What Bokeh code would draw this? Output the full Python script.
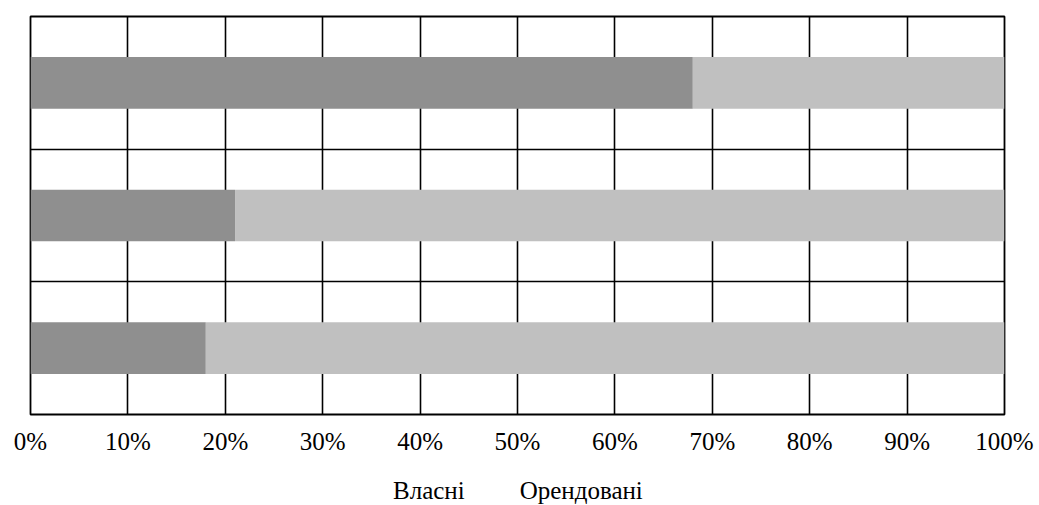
from bokeh.plotting import figure
from bokeh.layouts import column
from bokeh.models import ColumnDataSource, FixedTicker, Legend, LegendItem, Range1d
from bokeh.embed import file_html
from bokeh.resources import INLINE

# data
categories = ["1", "2", "3"]          # top to bottom (no labels shown in the chart)
own = [68, 21, 18]                    # Власні, %
rented = [32, 79, 82]                 # Орендовані, %
series_names = ["Власні", "Орендовані"]
tick_values = [0, 10, 20, 30, 40, 50, 60, 70, 80, 90, 100]
tick_labels = ["0%", "10%", "20%", "30%", "40%", "50%", "60%", "70%", "80%", "90%", "100%"]

n = len(categories)
ypos = [n - 0.5 - i for i in range(n)]
rent_end = [a + b for a, b in zip(own, rented)]

src = ColumnDataSource(dict(y=ypos, own0=[0] * n, own1=own, r0=own, r1=rent_end))

FONT = "Liberation Serif"
C_OWN = "#8f8f8f"
C_RENT = "#c0c0c0"

p = figure(width=1039, height=465,
           x_range=Range1d(0, 100), y_range=Range1d(0, n),
           output_backend="svg", toolbar_location=None,
           min_border_left=30, min_border_right=35, min_border_top=16, min_border_bottom=51)

p.hbar(y="y", left="own0", right="own1", height=0.39, source=src,
       fill_color=C_OWN, line_color=None)
p.hbar(y="y", left="r0", right="r1", height=0.39, source=src,
       fill_color=C_RENT, line_color=None)

p.yaxis.visible = False
p.xaxis.ticker = FixedTicker(ticks=tick_values)
p.xaxis.major_label_overrides = {v: l for v, l in zip(tick_values, tick_labels)}
p.xaxis.major_label_text_font = FONT
p.xaxis.major_label_text_font_size = "25px"
p.xaxis.major_label_text_color = "black"
p.xaxis.major_label_standoff = 7
p.xaxis.axis_line_color = None
p.xaxis.major_tick_line_color = None
p.xaxis.minor_tick_line_color = None

p.xgrid.ticker = FixedTicker(ticks=tick_values)
p.xgrid.grid_line_color = "black"
p.xgrid.grid_line_width = 1.6
p.ygrid.ticker = FixedTicker(ticks=list(range(n + 1)))
p.ygrid.grid_line_color = "black"
p.ygrid.grid_line_width = 1.6

p.outline_line_color = "black"
p.outline_line_width = 1.8
p.background_fill_color = "white"
p.border_fill_color = "white"

# legend strip below the chart
p2 = figure(width=1039, height=40, x_range=Range1d(0, 1), y_range=Range1d(0, 1),
            output_backend="svg", toolbar_location=None, min_border=0)
p2.axis.visible = False
p2.grid.visible = False
p2.outline_line_color = None
p2.background_fill_color = "white"
p2.border_fill_color = "white"
empty = ColumnDataSource(dict(y=[], l=[], r=[]))
lr1 = p2.hbar(y="y", left="l", right="r", height=0.5, source=empty, fill_color=C_OWN, line_color=None)
lr2 = p2.hbar(y="y", left="l", right="r", height=0.5, source=empty, fill_color=C_RENT, line_color=None)

legend = Legend(items=[LegendItem(label=series_names[0], renderers=[lr1]),
                       LegendItem(label=series_names[1], renderers=[lr2])],
                orientation="horizontal", location=(342, 0))
legend.label_text_font = FONT
legend.label_text_font_size = "25px"
legend.label_text_color = "black"
legend.glyph_width = 17
legend.glyph_height = 13
legend.label_standoff = 4
legend.spacing = 34
legend.border_line_color = None
legend.background_fill_alpha = 0
legend.padding = 0
legend.margin = 0
p2.add_layout(legend, "center")

layout = column(p, p2, spacing=0)
open("out.html", "w").write(file_html(layout, INLINE))
